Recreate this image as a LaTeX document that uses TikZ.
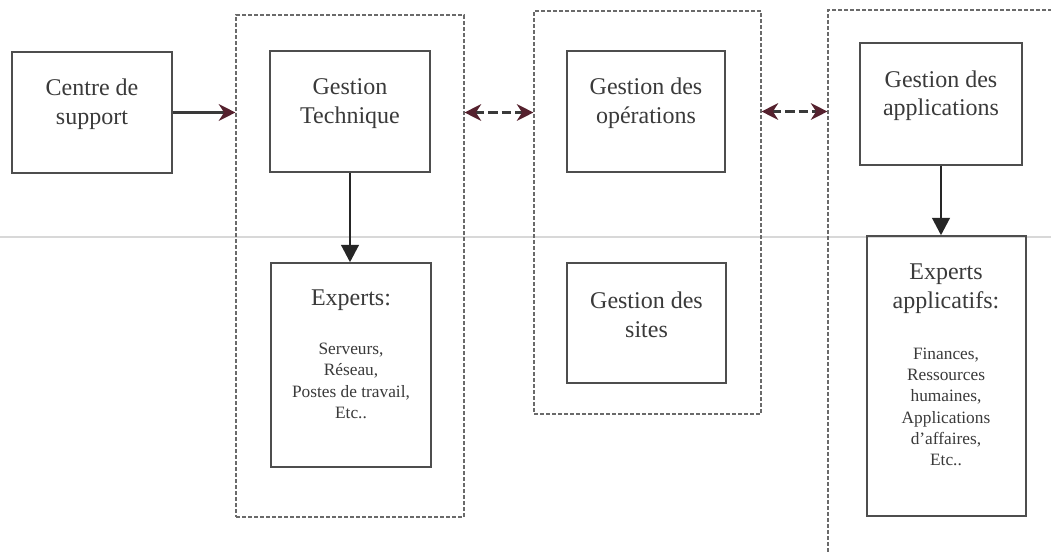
\documentclass[tikz,border=0pt]{standalone}
\usepackage{fontspec}
\setmainfont{Liberation Serif}
\usetikzlibrary{arrows.meta,fit}
\definecolor{ink}{HTML}{3A3A3A}
\definecolor{headred}{HTML}{55212E}
\definecolor{framegray}{HTML}{6A6A6A}
\definecolor{foldgray}{HTML}{D8D8D8}

\begin{document}
\begin{tikzpicture}[x=0.75pt,y=-0.75pt,
  box/.style={draw=ink!90, line width=1.1pt, inner sep=0pt, align=center, text=ink,
              font=\fontsize{18}{21.5}\selectfont},
  frame/.style={draw=framegray, line width=0.8pt, dash pattern=on 3pt off 1.5pt, inner sep=0pt},
  title/.style={text=ink, align=center, inner sep=0pt, font=\fontsize{18}{21.5}\selectfont},
  list/.style={text=ink, align=center, inner sep=0pt, font=\fontsize{13}{16}\selectfont},
  redhead/.tip={Stealth[length=12.5pt,width=12.5pt,inset=4pt,color=headred]},
  feed/.style={line width=2.5pt, draw=ink, -redhead},
  link/.style={line width=1.8pt, draw=ink, dash pattern=on 7pt off 3pt, redhead-redhead},
  down/.style={line width=2.2pt, draw=black!85, -{Triangle[length=13pt,width=13pt]}}]

\useasboundingbox (0,0) rectangle (1051,554);
\clip (0,0) rectangle (1051,554);
\fill[white] (0,0) rectangle (1051,554);

% faint fold line across the sheet
\draw[foldgray, line width=0.8pt] (0,237) -- (1051,237);

% dashed groupings
\node[frame, fit={(236,15) (464,517)}] (f1) {};
\node[frame, fit={(534,11) (761,414)}] (f2) {};
\node[frame, fit={(828,10) (1100,620)}] (f3) {};

% boxes
\node[box, fit={(12,52) (172,173)}] (cs) {Centre de\\support};
\node[box, fit={(270,51) (430,172)}] (gt) {Gestion\\Technique};
\node[box, fit={(271,263) (431,467)}] (ex1) {};
\node[box, fit={(567,51) (725,172)}] (go) {Gestion des\\op\'erations};
\node[box, fit={(567,263) (726,383)}] (gs) {Gestion des\\sites};
\node[box, fit={(860,43) (1022,165)}] (ga) {Gestion des\\applications};
\node[box, fit={(867,236) (1026,516)}] (ex2) {};

% box contents
\node[title] (ex1t) at (351,300) {Experts:};
\node[list] (ex1l) at (351,381) {Serveurs,\\R\'eseau,\\Postes de travail,\\Etc..};
\node[title] (ex2t) at (946,289) {Experts\\applicatifs:};
\node[list] (ex2l) at (946,407) {Finances,\\Ressources\\humaines,\\Applications\\d'affaires,\\Etc..};

% connectors
\draw[feed] (cs.east) -- (cs.east -| f1.west);
\draw[link] (f1.east |- cs.east) -- (f2.west |- cs.east);
\draw[link] (f2.east |- go.east) -- (f3.west |- go.east);
\draw[down] (gt.south) -- (gt.south |- ex1.north);
\draw[down] (ga.south) -- (ga.south |- ex2.north);
\end{tikzpicture}
\end{document}
